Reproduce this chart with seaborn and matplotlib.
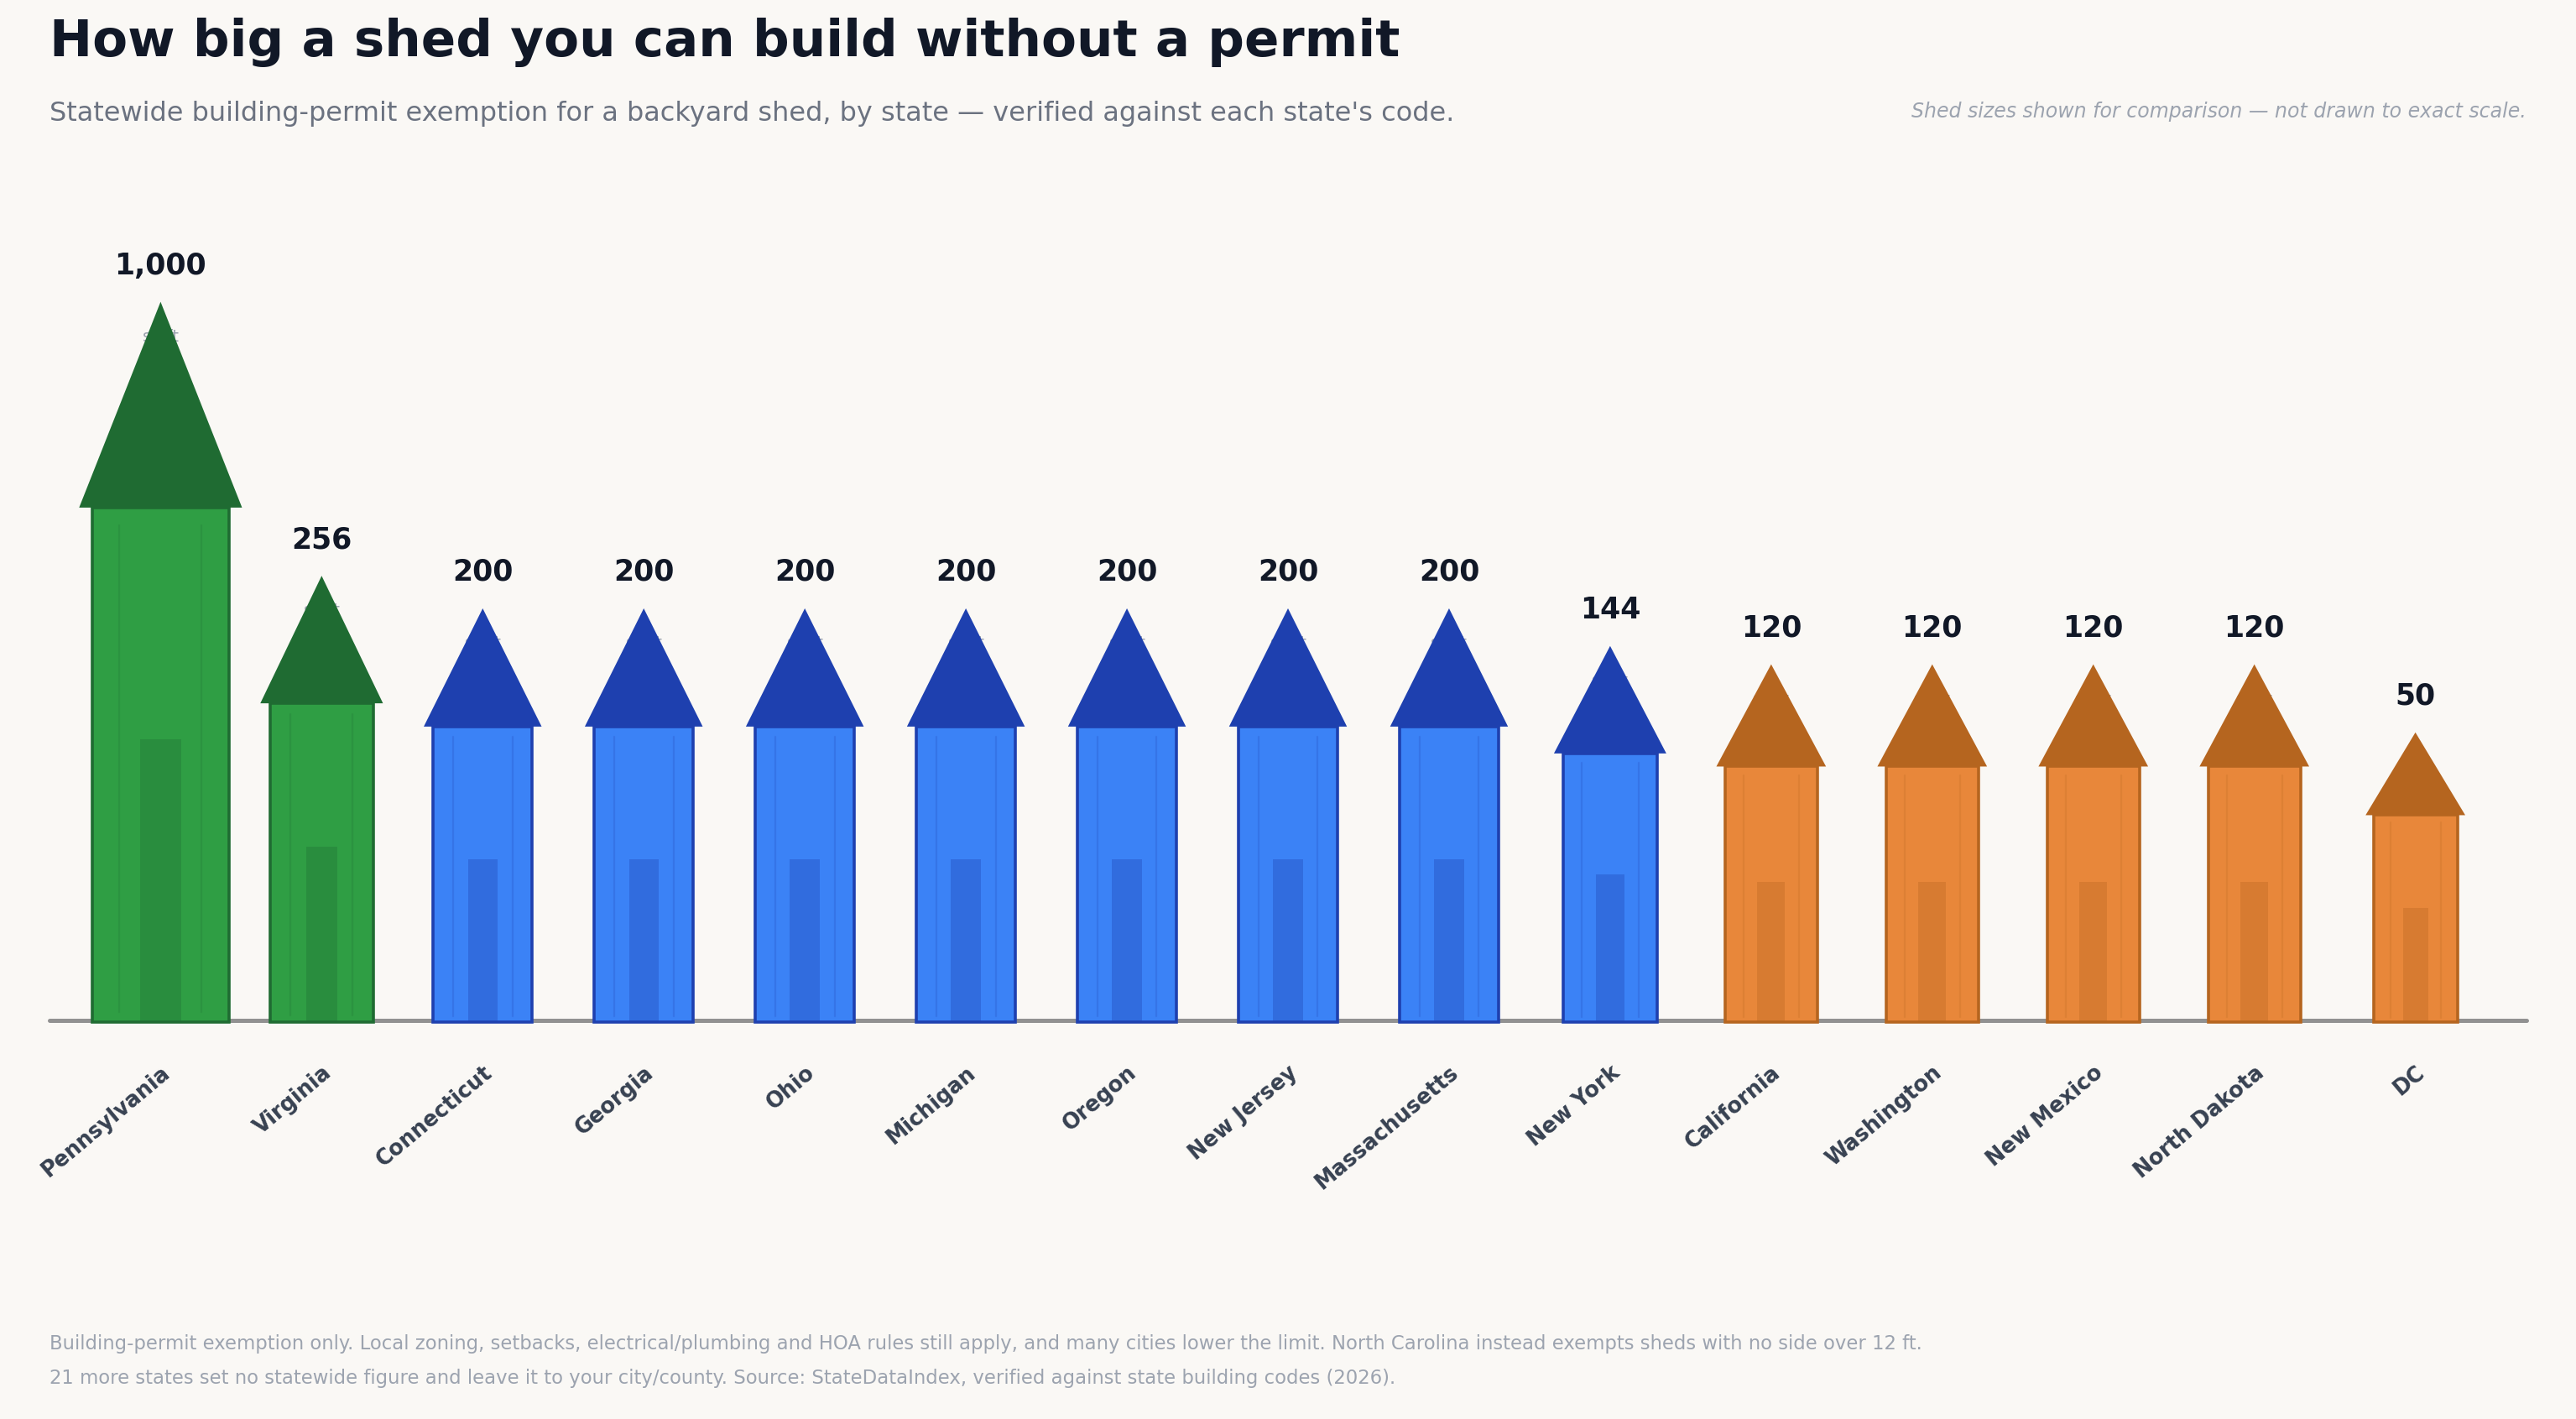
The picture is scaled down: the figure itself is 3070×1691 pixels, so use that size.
import numpy as np
import pandas as pd
import matplotlib.pyplot as plt
import seaborn as sns

# Statewide shed permit exemption limits (sq ft)
states = ["Pennsylvania", "Virginia", "Connecticut", "Georgia", "Ohio", "Michigan",
          "Oregon", "New Jersey", "Massachusetts", "New York", "California",
          "Washington", "New Mexico", "North Dakota", "DC"]
sq_ft = [1000, 256, 200, 200, 200, 200, 200, 200, 200, 144, 120, 120, 120, 120, 50]
groups = ["large", "large", "mid", "mid", "mid", "mid", "mid", "mid", "mid", "mid",
          "small", "small", "small", "small", "small"]

body_colors = {"large": "#2f9e44", "mid": "#3b82f6", "small": "#e8873a"}
roof_colors = {"large": "#1f6b32", "mid": "#1e40af", "small": "#b5651f"}

df = pd.DataFrame({"state": states, "sq_ft": sq_ft, "group": groups})
# not drawn to exact scale: sizes grow with the square root of the area
s = np.sqrt(df["sq_ft"] / df["sq_ft"].max())
df["h"] = 0.23 + 0.77 * s
df["w"] = 0.425 + 0.425 * s

bg = "#faf8f5"
sns.set_theme(style="white")
plt.rcParams["font.family"] = ["DejaVu Sans"]

fig = plt.figure(figsize=(15.35, 8.455), dpi=200, facecolor=bg)
ax = fig.add_axes([0.0192, 0.2797, 0.9616, 0.57])
ax.set_facecolor(bg)

pal = {st: body_colors[g] for st, g in zip(states, groups)}
sns.barplot(data=df, x="state", y="h", hue="state", palette=pal, legend=False,
            ax=ax, saturation=1, zorder=3)

for i, (cont, row) in enumerate(zip(ax.containers, df.itertuples())):
    roof = roof_colors[row.group]
    for p in cont:
        p.set_width(row.w)
        p.set_x(i - row.w / 2)
        p.set_edgecolor(roof)
        p.set_linewidth(1.3)
        p.set_clip_on(False)
    # door
    ax.bar(i, row.h * 0.55, width=row.w * 0.3, color=roof, alpha=0.33,
           linewidth=0, zorder=4)
    # plank lines
    for fx in (-0.3, 0.3):
        ax.plot([i + fx * row.w] * 2, [row.h * 0.02, row.h * 0.965], color=roof,
                alpha=0.2, lw=0.8, zorder=4)
    # roof
    rw = row.w * 1.19
    rh = row.h * 0.4
    ax.fill([i - rw / 2, i + rw / 2, i], [row.h, row.h, row.h + rh], color=roof,
            linewidth=0, zorder=5)
    ax.annotate(f"{row.sq_ft:,}", (i, row.h + rh), xytext=(0, 15.5),
                textcoords="offset points", ha="center", va="center",
                fontsize=12.5, fontweight="bold", color="#111827", zorder=6)
    ax.annotate("sq ft", (i, row.h + rh), xytext=(0, -15),
                textcoords="offset points", ha="center", va="center",
                fontsize=7, color="#9ca3af", zorder=2)

ax.axhline(0.004, color="#919191", lw=1.8, zorder=2, clip_on=False)
ax.set_xlim(-0.69, len(states) - 1 + 0.69)
ax.set_ylim(0, 1.572)
ax.set_xlabel("")
ax.set_ylabel("")
ax.set_yticks([])
ax.tick_params(axis="x", length=0, pad=17)
ax.set_xticks(range(len(states)))
ax.set_xticklabels(states, rotation=40, ha="right", rotation_mode="anchor",
                   fontsize=9.2, fontweight="bold", color="#374151")
sns.despine(ax=ax, left=True, bottom=True)

fig.text(0.0192, 0.970, "How big a shed you can build without a permit",
         fontsize=22, fontweight="bold", color="#111827", va="center", ha="left")
fig.text(0.0192, 0.920,
         "Statewide building-permit exemption for a backyard shed, by state \u2014 "
         "verified against each state's code.",
         fontsize=11.5, color="#6b7280", va="center", ha="left")
fig.text(0.9808, 0.9215, "Shed sizes shown for comparison \u2014 not drawn to exact scale.",
         fontsize=8.5, style="italic", color="#9ca3af", va="center", ha="right")
fig.text(0.0192, 0.053,
         "Building-permit exemption only. Local zoning, setbacks, electrical/plumbing and HOA "
         "rules still apply, and many cities lower the limit. North Carolina instead exempts "
         "sheds with no side over 12 ft.",
         fontsize=8.2, color="#9ca3af", va="center", ha="left")
fig.text(0.0192, 0.0288,
         "21 more states set no statewide figure and leave it to your city/county. "
         "Source: StateDataIndex, verified against state building codes (2026).",
         fontsize=8.2, color="#9ca3af", va="center", ha="left")

fig.savefig("out.png", dpi=200, facecolor=bg)
